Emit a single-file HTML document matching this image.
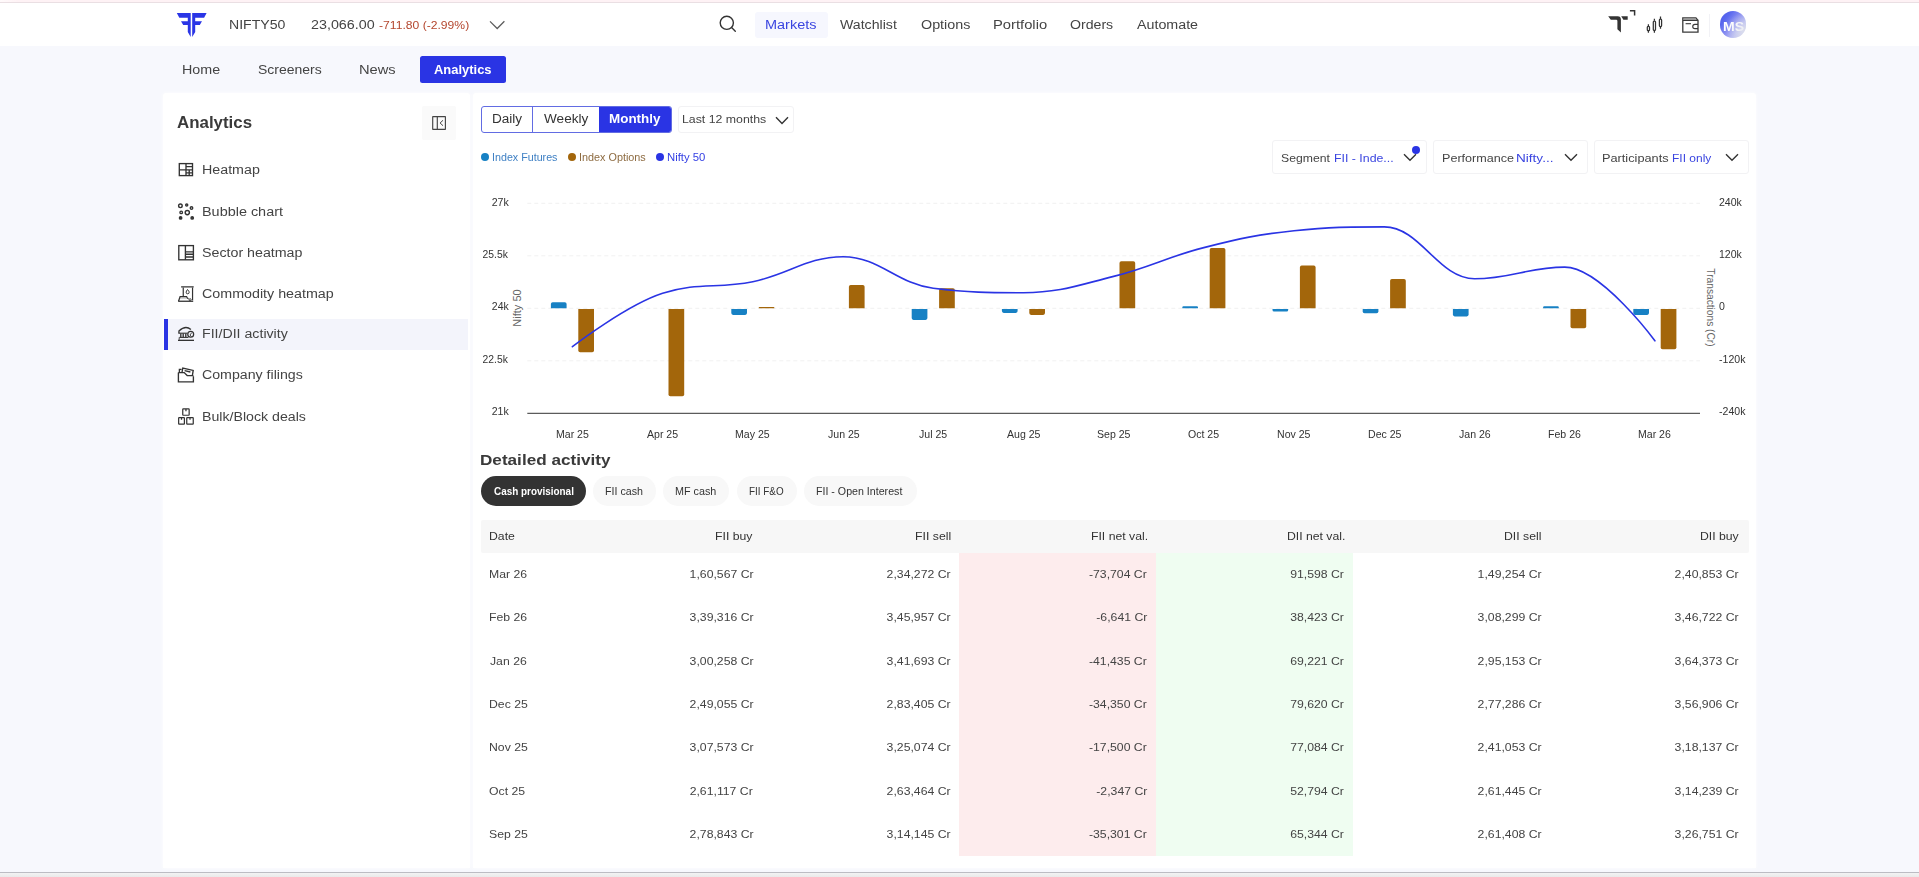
<!DOCTYPE html>
<html lang="en">
<head>
<meta charset="utf-8">
<title>FII/DII activity - Analytics</title>
<style>

*{box-sizing:border-box;margin:0;padding:0}
html,body{width:1919px;height:877px;overflow:hidden;background:#f7f8fd}
body{font-family:"Liberation Sans",sans-serif;color:#444;font-size:13px;-webkit-font-smoothing:antialiased}
#page{position:relative;width:1919px;height:877px;overflow:hidden;background:#f7f8fd}
.abs{position:absolute}
.t{position:absolute;white-space:nowrap;line-height:1;display:block;color:#444}
#txt{position:absolute;left:0;top:0;width:1919px;height:877px;will-change:transform}
svg{position:absolute;overflow:visible}

/* top strip + header */
#topline{position:absolute;left:0;top:0;width:1919px;height:3px;background:linear-gradient(90deg,#fffafb 0,#fef2f5 18px);border-bottom:1px solid #eadfe3}
#header{position:absolute;left:0;top:3px;width:1919px;height:43px;background:#fff}
#mk-bg{position:absolute;left:755px;top:12px;width:73px;height:25.5px;background:#f6f7fe;border-radius:3px}
#avatar{position:absolute;left:1719.8px;top:11.2px;width:26.4px;height:26.4px;border-radius:50%;
  background:linear-gradient(128deg,#4656ea 0%,#5a68ee 25%,#8d92f2 50%,#b9bdf2 72%,#dfe1ea 100%)}
#avfade{position:absolute;left:1719.8px;top:11.2px;width:26.4px;height:26.4px;border-radius:50%;background:radial-gradient(circle at 88% 72%,rgba(226,228,236,.7) 0%,rgba(226,228,236,.35) 28%,rgba(226,228,236,0) 58%)}
#hdiv{position:absolute;left:1709px;top:14px;width:1px;height:23px;background:#f2f2f6}

/* sub nav */
#an-btn{position:absolute;left:420px;top:56px;width:85.5px;height:26.8px;background:#2a34e4;border-radius:2.5px}

/* panels */
#side{position:absolute;left:163px;top:93px;width:307px;height:775px;background:#fff;border-radius:3px 3px 0 0;box-shadow:0 0 4px rgba(255,255,255,.85)}
#main{position:absolute;left:473px;top:93px;width:1283px;height:775px;background:#fff;border-radius:3px 3px 0 0;box-shadow:0 0 4px rgba(255,255,255,.85)}
#botline{position:absolute;left:0;top:872px;width:1919px;height:1px;background:#bcbcc3}
#botbar{position:absolute;left:0;top:873px;width:1919px;height:4px;background:linear-gradient(#f3f3f3,#e9e9e9)}

/* sidebar */
#collapse{position:absolute;left:259px;top:13px;width:34px;height:34px;background:#fafafa;border-radius:2px}
#act{position:absolute;left:1px;top:225.7px;width:304px;height:31.2px;background:#f3f4fb}
#actbar{position:absolute;left:1px;top:225.7px;width:4px;height:31.2px;background:#2a34e4}
.ic{position:absolute;left:14px;width:17px;height:17px}

/* chart controls */
#tabs{position:absolute;left:8px;top:13px;width:191px;height:27px;border:1.5px solid #626ce3;border-radius:3px;background:#fff;overflow:hidden}
#tabs div{position:absolute;top:0;height:100%;font-size:14px;line-height:1;color:#333;text-align:center;padding-top:5px}
#tabs .d{left:0;width:51px;border-right:1.5px solid #626ce3}
#tabs .w{left:51px;width:66px}
#tabs .m{left:117px;width:72px;background:#2a34e4;color:#fff;font-weight:bold;font-size:13.5px}
.dd{position:absolute;border:1px solid #f2f2f4;border-radius:3px;background:#fff}
.dot{position:absolute;width:8px;height:8px;border-radius:50%;top:60px}
.ax{font-size:10.5px;fill:#333;font-family:"Liberation Sans",sans-serif}

/* table */
.pill{position:absolute;top:383px;height:30px;border-radius:15px;background:#f8f8f8;font-size:10.4px;line-height:1;color:#333;text-align:center;padding-top:10px;white-space:nowrap}
.pill.on{background:#333;color:#fff;font-weight:bold;font-size:10px;padding-top:10.3px}
#th{position:absolute;left:8px;top:427px;width:1268px;height:33px;background:#f7f7f7;border-radius:2px}
.col-r{position:absolute;left:486px;top:460px;width:197px;height:303px;background:#fdeced}
.col-g{position:absolute;left:683px;top:460px;width:197px;height:303px;background:#effdf1}
</style>
</head>
<body>
<div id="page">
<div id="topline"></div>
<div id="header"></div>
<svg style="left:174px;top:10px" width="36" height="30" viewBox="174 10 36 30"><g fill="#2a35e6"><path d="M176.8 13 H190.7 V37.1 L187.8 32 V24.9 H183.2 L181 21.2 H187.8 V17.7 H179.3 Z"/><path d="M192.2 13 H206.6 L204.1 17.7 H195.2 V21.2 H202 L199.8 24.9 H195.2 V32 L192.2 37.1 Z"/></g></svg>
<svg style="left:489.1px;top:19.7px" width="16" height="10" viewBox="0 0 16 10"><path d="M1 1.4 L8.2 8.5 L15.4 1.3" fill="none" stroke="#5c5c5c" stroke-width="1.25"/></svg>
<svg style="left:718px;top:14.2px" width="20" height="20" viewBox="0 0 20 20"><circle cx="8.8" cy="8.8" r="6.6" fill="none" stroke="#333" stroke-width="1.4"/><path d="M13.6 13.6 L17.3 17.3" stroke="#333" stroke-width="1.35" stroke-linecap="round"/></svg>
<div id="mk-bg"></div>
<svg style="left:1606px;top:8px" width="32" height="28" viewBox="1606 8 32 28"><path d="M1608.2 16.2 H1617.6 Q1620.9 16.2 1620.9 19.6 V32.5 L1617.4 29.3 V21 Q1617.4 19.8 1616.2 19.8 H1610.8 Z" fill="#333"/><path d="M1621.2 16.2 H1627.7 V19.8 H1623.4 Z" fill="#333"/><path d="M1629.9 10.7 H1634.6 V15.6" fill="none" stroke="#333" stroke-width="1.5"/></svg>
<svg style="left:1644px;top:14px" width="22" height="22" viewBox="1644 14 22 22"><g fill="none" stroke="#333" stroke-width="1.25"><path d="M1648.4 24.2 V26.2 M1648.4 30.8 V32.7 M1654.4 18.8 V20.8 M1654.4 30.4 V32.7 M1660.5 16.6 V19 M1660.5 26.6 V28.7"/><rect x="1647.3" y="26.3" width="2.2" height="4.4" rx="0.9"/><rect x="1653.3" y="21" width="2.2" height="9.3" rx="0.9"/><rect x="1659.4" y="19.2" width="2.2" height="7.3" rx="0.9"/></g></svg>
<svg style="left:1680px;top:15px" width="22" height="20" viewBox="1680 15 22 20"><g fill="none" stroke="#3a3a3a" stroke-width="1.3"><path d="M1682.8 20.4 H1698 V32.1 H1682.8 V17.8 H1695.9 L1698 20.4"/><path d="M1683.6 19.1 H1695.8" stroke="#909090" stroke-width="1.5"/><path d="M1685.6 23.7 H1691" stroke-width="1.1"/><path d="M1698 24.3 H1694.9 A2.15 2.15 0 0 0 1694.9 28.6 H1698" stroke-width="1.15"/></g></svg>
<div id="hdiv"></div>
<div id="avatar"></div>
<div id="an-btn"></div>
<div id="side">
<div id="act"></div><div id="actbar"></div>
<div id="collapse"></div>
<svg style="left:267px;top:21px" width="18" height="18" viewBox="430 114 18 18" fill="none" stroke="#333" stroke-width="1.15"><rect x="432.7" y="116.6" width="12.7" height="12.8" rx="0.2" stroke="#444"/><path d="M437.3 116.6 V129.4" stroke="#444"/><path d="M443 120.3 L440.1 123 L443 125.7" stroke="#444" stroke-width="1"/></svg>
<svg style="left:14px;top:68px" width="18" height="18" viewBox="177 161 18 18" fill="none" stroke="#333" stroke-width="1.35"><rect x="179.3" y="163.6" width="13.2" height="12"/><path d="M186 163.6 V175.6 M179.3 169.8 H192.5 M186 166.6 H192.5 M189.2 169.8 V175.6 M186 172.8 H192.5"/></svg>
<svg style="left:14px;top:109px" width="18" height="18" viewBox="177 202 18 18" fill="none" stroke="#333" stroke-width="1.4"><circle cx="180.4" cy="205.8" r="1.8"/><circle cx="186.7" cy="205" r="1.05"/><circle cx="191.5" cy="208" r="1.25"/><circle cx="181.2" cy="212.4" r="1.25"/><circle cx="187.3" cy="212.6" r="2.1"/><circle cx="180.6" cy="217.9" r="1.2" fill="#333"/><circle cx="192.2" cy="217.9" r="1.2" fill="#444"/></svg>
<svg style="left:14px;top:150px" width="18" height="19" viewBox="177 243 18 19" fill="none" stroke="#333" stroke-width="1.35"><rect x="178.8" y="245.6" width="14.6" height="14.2"/><path d="M185.4 245.6 V259.8 M185.4 251.9 H193.4 M185.4 254.2 H193.4 M185.4 257 H193.4"/></svg>
<svg style="left:13px;top:190px" width="20" height="20" viewBox="176 283 20 20" fill="none" stroke="#333" stroke-width="1.1"><path d="M181.1 286.85 H193.7" stroke="#555" stroke-width="1.5"/><path d="M183.25 287.6 V296.4 M192.55 287.6 V300.2" stroke-width="1.2"/><path d="M178.5 301.2 L180.1 296.7 H186.6 Q187.4 298.6 188.6 298.7" stroke-width="1.25"/><path d="M180.2 298.05 H186.8" stroke-width="0.6" stroke="#777"/><path d="M178.2 301.25 H193.2" stroke-width="1.3"/><circle cx="190.1" cy="299.75" r="1.05" stroke-width="0.9"/><path d="M187.5 289.5 C186.6 290.7 186.15 291.6 186.15 292.3 A1.5 1.5 0 0 0 189.15 292.3 C189.15 291.6 188.6 290.6 187.5 289.5 Z" stroke-width="1"/></svg>
<svg style="left:13px;top:231px" width="20" height="20" viewBox="176 324 20 20" fill="none" stroke="#333" stroke-width="1.1"><path d="M178.95 333.2 V330.9 Q185.6 324.9 190.9 329.6" stroke-width="1.3"/><path d="M178.4 333.2 H187.4" stroke-width="1.1"/><path d="M180.8 333.4 V337.2 M183.2 333.4 V337.2 M185.8 333.4 V337.2" stroke-width="1.35"/><path d="M179.4 337.4 H188.4" stroke-width="1.1"/><path d="M179.2 337.4 V339.8" stroke-width="0.9"/><path d="M178 340.35 H194" stroke-width="1.35"/><circle cx="190.7" cy="334.3" r="2.95" fill="#f3f4fb" stroke-width="1.25"/><path d="M191.7 332.7 L190 335 L191.3 336.5" stroke-width="0.9"/></svg>
<svg style="left:13px;top:272px" width="19" height="19" viewBox="176 365 19 19" fill="none" stroke="#333" stroke-width="1.35"><path d="M178.4 372.6 V381.9 H193.4 V376.2"/><path d="M178.4 372.6 H184.2 L187.2 375.6 H193.4"/><path d="M179.4 372.4 V369.4 H181.6"/><path d="M182 372.4 L182.8 368 L193.2 370.4 L192.4 375.4"/><path d="M184.6 370.6 L190.4 372"/></svg>
<svg style="left:13px;top:313px" width="20" height="21" viewBox="176 406 20 21" fill="none" stroke="#333" stroke-width="1.22"><rect x="182.75" y="408.95" width="6.4" height="6.3" rx="0.5"/><rect x="178.65" y="417.65" width="5.75" height="6.5" rx="0.5"/><rect x="186.75" y="417.65" width="6.5" height="6.5" rx="0.5"/><path d="M185.95 409 V411.2 M181.5 417.7 V419.7 M190 417.7 V419.7" stroke-width="1.25"/></svg>
</div>
<div id="main">
<div id="tabs"><div class="d"></div><div class="w"></div><div class="m"></div></div>
<div class="dd" style="left:205px;top:13px;width:116px;height:27px"></div>
<svg style="left:302px;top:23px" width="14" height="9" viewBox="0 0 14 9"><path d="M1 1.2 L7 7.4 L13 1.2" fill="none" stroke="#333" stroke-width="1.4"/></svg>
<div class="dot" style="left:8.3px;background:#1781c4"></div><div class="dot" style="left:94.7px;background:#a3660b"></div><div class="dot" style="left:182.6px;background:#2a34e4"></div><div class="dd" style="left:799px;top:47px;width:155px;height:34px"></div>
<svg style="left:930px;top:60px" width="14" height="9" viewBox="0 0 14 9"><path d="M1 1.2 L7 7.2 L13 1.2" fill="none" stroke="#333" stroke-width="1.4"/></svg>
<div class="abs" style="left:938.8px;top:52.5px;width:8px;height:8px;border-radius:50%;background:#2a34e4"></div>
<div class="dd" style="left:960px;top:47px;width:155px;height:34px"></div>
<svg style="left:1091px;top:60px" width="14" height="9" viewBox="0 0 14 9"><path d="M1 1.2 L7 7.2 L13 1.2" fill="none" stroke="#333" stroke-width="1.4"/></svg>
<div class="dd" style="left:1121px;top:47px;width:155px;height:34px"></div>
<svg style="left:1252px;top:60px" width="14" height="9" viewBox="0 0 14 9"><path d="M1 1.2 L7 7.2 L13 1.2" fill="none" stroke="#333" stroke-width="1.4"/></svg>
<svg style="left:0;top:0" width="1283" height="775" viewBox="473 93 1283 775">
<path d="M527.3 203.3 H1700.0" stroke="#f1f1f1" stroke-width="1" stroke-dasharray="4 3" fill="none"/>
<path d="M527.3 255.8 H1700.0" stroke="#f1f1f1" stroke-width="1" stroke-dasharray="4 3" fill="none"/>
<path d="M527.3 308.3 H1700.0" stroke="#f1f1f1" stroke-width="1" stroke-dasharray="4 3" fill="none"/>
<path d="M527.3 360.8 H1700.0" stroke="#f1f1f1" stroke-width="1" stroke-dasharray="4 3" fill="none"/>
<path d="M550.9 308.3 V304.1 Q550.9 302.3 552.7 302.3 H564.8 Q566.6 302.3 566.6 304.1 V308.3 Z" fill="#1781c4"/>
<path d="M578.3 308.9 V350.5 Q578.3 352.3 580.1 352.3 H592.2 Q594.0 352.3 594.0 350.5 V308.9 Z" fill="#a3660b"/>
<path d="M668.5 308.9 V394.5 Q668.5 396.3 670.3 396.3 H682.4 Q684.2 396.3 684.2 394.5 V308.9 Z" fill="#a3660b"/>
<path d="M731.3 308.9 V313.1 Q731.3 314.9 733.1 314.9 H745.2 Q747.0 314.9 747.0 313.1 V308.9 Z" fill="#1781c4"/>
<path d="M758.7 308.3 V307.8 Q758.7 307.1 759.4 307.1 H773.6 Q774.4 307.1 774.4 307.8 V308.3 Z" fill="#a3660b"/>
<path d="M848.9 308.3 V286.8 Q848.9 285.0 850.7 285.0 H862.8 Q864.6 285.0 864.6 286.8 V308.3 Z" fill="#a3660b"/>
<path d="M911.7 308.9 V318.1 Q911.7 319.9 913.5 319.9 H925.6 Q927.4 319.9 927.4 318.1 V308.9 Z" fill="#1781c4"/>
<path d="M939.1 308.3 V290.1 Q939.1 288.3 940.9 288.3 H953.0 Q954.8 288.3 954.8 290.1 V308.3 Z" fill="#a3660b"/>
<path d="M1001.9 308.9 V311.1 Q1001.9 312.9 1003.7 312.9 H1015.8 Q1017.6 312.9 1017.6 311.1 V308.9 Z" fill="#1781c4"/>
<path d="M1029.3 308.9 V313.1 Q1029.3 314.9 1031.1 314.9 H1043.2 Q1045.0 314.9 1045.0 313.1 V308.9 Z" fill="#a3660b"/>
<path d="M1119.5 308.3 V263.1 Q1119.5 261.3 1121.3 261.3 H1133.4 Q1135.2 261.3 1135.2 263.1 V308.3 Z" fill="#a3660b"/>
<path d="M1182.3 308.3 V307.5 Q1182.3 306.3 1183.5 306.3 H1196.8 Q1198.0 306.3 1198.0 307.5 V308.3 Z" fill="#1781c4"/>
<path d="M1209.7 308.3 V249.8 Q1209.7 248.0 1211.5 248.0 H1223.6 Q1225.4 248.0 1225.4 249.8 V308.3 Z" fill="#a3660b"/>
<path d="M1272.5 308.9 V310.0 Q1272.5 311.6 1274.1 311.6 H1286.6 Q1288.2 311.6 1288.2 310.0 V308.9 Z" fill="#1781c4"/>
<path d="M1299.9 308.3 V267.4 Q1299.9 265.6 1301.7 265.6 H1313.8 Q1315.6 265.6 1315.6 267.4 V308.3 Z" fill="#a3660b"/>
<path d="M1362.7 308.9 V311.5 Q1362.7 313.3 1364.5 313.3 H1376.6 Q1378.4 313.3 1378.4 311.5 V308.9 Z" fill="#1781c4"/>
<path d="M1390.1 308.3 V280.8 Q1390.1 279.0 1391.9 279.0 H1404.0 Q1405.8 279.0 1405.8 280.8 V308.3 Z" fill="#a3660b"/>
<path d="M1452.9 308.9 V314.6 Q1452.9 316.4 1454.7 316.4 H1466.8 Q1468.6 316.4 1468.6 314.6 V308.9 Z" fill="#1781c4"/>
<path d="M1543.1 308.3 V307.5 Q1543.1 306.3 1544.3 306.3 H1557.6 Q1558.8 306.3 1558.8 307.5 V308.3 Z" fill="#1781c4"/>
<path d="M1570.5 308.9 V326.4 Q1570.5 328.2 1572.3 328.2 H1584.4 Q1586.2 328.2 1586.2 326.4 V308.9 Z" fill="#a3660b"/>
<path d="M1633.3 308.9 V313.1 Q1633.3 314.9 1635.1 314.9 H1647.2 Q1649.0 314.9 1649.0 313.1 V308.9 Z" fill="#1781c4"/>
<path d="M1660.7 308.9 V347.4 Q1660.7 349.2 1662.5 349.2 H1674.6 Q1676.4 349.2 1676.4 347.4 V308.9 Z" fill="#a3660b"/>
<path d="M527.3 413.3 H1700.0" stroke="#333" stroke-width="1" fill="none"/>
<path d="M572.40 346.70 C572.40 346.70 626.53 304.90 662.61 293.30 C698.69 281.70 716.74 289.02 752.82 281.70 C788.90 274.38 806.94 256.70 843.03 256.70 C879.11 256.70 897.15 283.90 933.23 288.30 C969.32 292.70 987.36 292.70 1023.44 292.70 C1059.53 292.70 1077.57 285.42 1113.65 276.40 C1149.73 267.38 1167.77 256.74 1203.86 247.60 C1239.94 238.46 1257.98 234.50 1294.07 230.70 C1330.15 226.90 1348.19 226.90 1384.27 226.90 C1420.36 226.90 1438.40 278.80 1474.48 278.80 C1510.56 278.80 1528.61 267.10 1564.69 267.10 C1600.77 267.10 1654.90 340.80 1654.90 340.80" stroke="#2a34e4" stroke-width="1.6" fill="none" stroke-linejoin="round" stroke-linecap="round"/>
<text class="ax" style="fill:#666;font-size:11px" transform="translate(521 308) rotate(-90)" text-anchor="middle">Nifty 50</text>
<text class="ax" style="fill:#666;font-size:10.2px" transform="translate(1706.5 307.5) rotate(90)" text-anchor="middle">Transactions (Cr)</text>
</svg>
<div class="pill on" style="left:8px;width:105px"></div>
<div class="pill" style="left:120.3px;width:63px"></div>
<div class="pill" style="left:190.3px;width:66px"></div>
<div class="pill" style="left:263.7px;width:60px"></div>
<div class="pill" style="left:331.3px;width:112.5px"></div>
<div id="th"></div>
<div class="col-r"></div><div class="col-g"></div>
</div>
<div id="txt">
<span class="t" style="top:19px;font-size:12.3px;left:229.44px;transform-origin:0 0;transform:scaleX(1.1461);">NIFTY50</span>
<span class="t" style="top:19px;font-size:12.3px;left:311.38px;transform-origin:0 0;transform:scaleX(1.1633);">23,066.00</span>
<span class="t" style="top:20px;font-size:11.8px;left:379.17px;transform-origin:0 0;transform:scaleX(1.0288);color:#b4472f;">-711.80 (-2.99%)</span>
<span class="t" style="top:19px;font-size:12.3px;left:765.41px;transform-origin:0 0;transform:scaleX(1.1778);color:#3a45e0;">Markets</span>
<span class="t" style="top:19px;font-size:12.3px;left:840.14px;transform-origin:0 0;transform:scaleX(1.1504);">Watchlist</span>
<span class="t" style="top:19px;font-size:12.3px;left:920.73px;transform-origin:0 0;transform:scaleX(1.1652);">Options</span>
<span class="t" style="top:19px;font-size:12.3px;left:992.79px;transform-origin:0 0;transform:scaleX(1.1994);">Portfolio</span>
<span class="t" style="top:19px;font-size:12.3px;left:1069.84px;transform-origin:0 0;transform:scaleX(1.1485);">Orders</span>
<span class="t" style="top:19px;font-size:12.3px;left:1136.87px;transform-origin:0 0;transform:scaleX(1.1600);">Automate</span>
<span class="t" style="top:21px;font-size:12.4px;left:1722.87px;transform-origin:0 0;transform:scaleX(1.1335);font-weight:bold;color:#fff;">MS</span>
<span class="t" style="top:64px;font-size:12.5px;left:181.73px;transform-origin:0 0;transform:scaleX(1.1429);">Home</span>
<span class="t" style="top:64px;font-size:12.5px;left:257.97px;transform-origin:0 0;transform:scaleX(1.1192);">Screeners</span>
<span class="t" style="top:64px;font-size:12.5px;left:358.80px;transform-origin:0 0;transform:scaleX(1.1746);">News</span>
<span class="t" style="top:64px;font-size:12.3px;left:433.69px;transform-origin:0 0;transform:scaleX(1.0520);font-weight:bold;color:#fff;">Analytics</span>
<span class="t" style="top:115px;font-size:16px;left:176.89px;transform-origin:0 0;transform:scaleX(1.0547);font-weight:bold;color:#3a3a3a;">Analytics</span>
<span class="t" style="top:164px;font-size:12.3px;left:201.93px;transform-origin:0 0;transform:scaleX(1.1594);">Heatmap</span>
<span class="t" style="top:206px;font-size:12.3px;left:201.92px;transform-origin:0 0;transform:scaleX(1.1728);">Bubble chart</span>
<span class="t" style="top:247px;font-size:12.3px;left:202.46px;transform-origin:0 0;transform:scaleX(1.1569);">Sector heatmap</span>
<span class="t" style="top:288px;font-size:12.3px;left:202.39px;transform-origin:0 0;transform:scaleX(1.1608);">Commodity heatmap</span>
<span class="t" style="top:328px;font-size:12.3px;left:201.94px;transform-origin:0 0;transform:scaleX(1.1518);">FII/DII activity</span>
<span class="t" style="top:369px;font-size:12.3px;left:202.39px;transform-origin:0 0;transform:scaleX(1.1525);">Company filings</span>
<span class="t" style="top:411px;font-size:12.3px;left:201.94px;transform-origin:0 0;transform:scaleX(1.1522);">Bulk/Block deals</span>
<span class="t" style="top:113px;font-size:12.3px;left:491.59px;transform-origin:0 0;transform:scaleX(1.1021);color:#333;">Daily</span>
<span class="t" style="top:113px;font-size:12.3px;left:543.75px;transform-origin:0 0;transform:scaleX(1.1045);color:#333;">Weekly</span>
<span class="t" style="top:113px;font-size:12.3px;left:608.81px;transform-origin:0 0;transform:scaleX(1.0916);font-weight:bold;color:#fff;">Monthly</span>
<span class="t" style="top:114px;font-size:11px;left:681.69px;transform-origin:0 0;transform:scaleX(1.1202);">Last 12 months</span>
<span class="t" style="top:153px;font-size:10.4px;left:492.21px;transform-origin:0 0;transform:scaleX(1.0306);color:#3f80c4;">Index Futures</span>
<span class="t" style="top:153px;font-size:10.4px;left:578.90px;transform-origin:0 0;transform:scaleX(1.0416);color:#8d6b41;">Index Options</span>
<span class="t" style="top:153px;font-size:10.4px;left:667.07px;transform-origin:0 0;transform:scaleX(1.0887);color:#333fe4;">Nifty 50</span>
<span class="t" style="top:153px;font-size:11.3px;left:1281.45px;transform-origin:0 0;transform:scaleX(1.0809);">Segment</span>
<span class="t" style="top:153px;font-size:11.3px;left:1333.59px;transform-origin:0 0;transform:scaleX(1.0917);color:#3a45e0;">FII - Inde...</span>
<span class="t" style="top:153px;font-size:11.3px;left:1441.87px;transform-origin:0 0;transform:scaleX(1.1130);">Performance</span>
<span class="t" style="top:153px;font-size:11.3px;left:1516.09px;transform-origin:0 0;transform:scaleX(1.2015);color:#3a45e0;">Nifty...</span>
<span class="t" style="top:153px;font-size:11.3px;left:1602.35px;transform-origin:0 0;transform:scaleX(1.1282);">Participants</span>
<span class="t" style="top:153px;font-size:11.3px;left:1672.02px;transform-origin:0 0;transform:scaleX(1.0609);color:#3a45e0;">FII only</span>
<span class="t" style="top:197px;font-size:11px;right:1410.62px;transform-origin:100% 0;transform:scaleX(0.9640);color:#333;">27k</span>
<span class="t" style="top:249px;font-size:11px;right:1410.62px;transform-origin:100% 0;transform:scaleX(0.9400);color:#333;">25.5k</span>
<span class="t" style="top:301px;font-size:11px;right:1410.62px;transform-origin:100% 0;transform:scaleX(0.9550);color:#333;">24k</span>
<span class="t" style="top:354px;font-size:11px;right:1410.62px;transform-origin:100% 0;transform:scaleX(0.9400);color:#333;">22.5k</span>
<span class="t" style="top:406px;font-size:11px;right:1410.62px;transform-origin:100% 0;transform:scaleX(0.9600);color:#333;">21k</span>
<span class="t" style="top:197px;font-size:11px;left:1719.17px;transform-origin:0 0;transform:scaleX(0.9600);color:#333;">240k</span>
<span class="t" style="top:249px;font-size:11px;left:1718.90px;transform-origin:0 0;transform:scaleX(0.9600);color:#333;">120k</span>
<span class="t" style="top:301px;font-size:11px;left:1719.29px;transform-origin:0 0;transform:scaleX(0.9600);color:#333;">0</span>
<span class="t" style="top:354px;font-size:11px;left:1719.24px;transform-origin:0 0;transform:scaleX(0.9600);color:#333;">-120k</span>
<span class="t" style="top:406px;font-size:11px;left:1719.24px;transform-origin:0 0;transform:scaleX(0.9600);color:#333;">-240k</span>
<span class="t" style="top:429px;font-size:11px;left:555.95px;transform-origin:0 0;transform:scaleX(0.9600);color:#333;">Mar 25</span>
<span class="t" style="top:429px;font-size:11px;left:647.46px;transform-origin:0 0;transform:scaleX(0.9600);color:#333;">Apr 25</span>
<span class="t" style="top:429px;font-size:11px;left:735.49px;transform-origin:0 0;transform:scaleX(0.9600);color:#333;">May 25</span>
<span class="t" style="top:429px;font-size:11px;left:827.51px;transform-origin:0 0;transform:scaleX(0.9600);color:#333;">Jun 25</span>
<span class="t" style="top:429px;font-size:11px;left:919.48px;transform-origin:0 0;transform:scaleX(0.9600);color:#333;">Jul 25</span>
<span class="t" style="top:429px;font-size:11px;left:1007.11px;transform-origin:0 0;transform:scaleX(0.9600);color:#333;">Aug 25</span>
<span class="t" style="top:429px;font-size:11px;left:1097.09px;transform-origin:0 0;transform:scaleX(0.9600);color:#333;">Sep 25</span>
<span class="t" style="top:429px;font-size:11px;left:1188.47px;transform-origin:0 0;transform:scaleX(0.9600);color:#333;">Oct 25</span>
<span class="t" style="top:429px;font-size:11px;left:1277.32px;transform-origin:0 0;transform:scaleX(0.9600);color:#333;">Nov 25</span>
<span class="t" style="top:429px;font-size:11px;left:1367.53px;transform-origin:0 0;transform:scaleX(0.9600);color:#333;">Dec 25</span>
<span class="t" style="top:429px;font-size:11px;left:1458.98px;transform-origin:0 0;transform:scaleX(0.9600);color:#333;">Jan 26</span>
<span class="t" style="top:429px;font-size:11px;left:1548.24px;transform-origin:0 0;transform:scaleX(0.9600);color:#333;">Feb 26</span>
<span class="t" style="top:429px;font-size:11px;left:1638.45px;transform-origin:0 0;transform:scaleX(0.9600);color:#333;">Mar 26</span>
<span class="t" style="top:452px;font-size:15.3px;left:480.17px;transform-origin:0 0;transform:scaleX(1.1196);font-weight:bold;color:#3a3a3a;">Detailed activity</span>
<span class="t" style="top:486px;font-size:10.9px;left:493.79px;transform-origin:0 0;transform:scaleX(0.9104);font-weight:bold;color:#fff;">Cash provisional</span>
<span class="t" style="top:486px;font-size:10.9px;left:605.42px;transform-origin:0 0;transform:scaleX(0.9802);color:#333;">FII cash</span>
<span class="t" style="top:486px;font-size:10.9px;left:675.42px;transform-origin:0 0;transform:scaleX(0.9882);color:#333;">MF cash</span>
<span class="t" style="top:486px;font-size:10.9px;left:749.39px;transform-origin:0 0;transform:scaleX(0.9072);color:#333;">FII F&amp;O</span>
<span class="t" style="top:486px;font-size:10.9px;left:816.43px;transform-origin:0 0;transform:scaleX(0.9771);color:#333;">FII - Open Interest</span>
<span class="t" style="top:530px;font-size:11.6px;left:489.00px;transform-origin:0 0;transform:scaleX(1.0560);color:#333;">Date</span>
<span class="t" style="top:530px;font-size:11.6px;right:1166.08px;transform-origin:100% 0;transform:scaleX(1.0560);color:#333;">FII buy</span>
<span class="t" style="top:530px;font-size:11.6px;right:968.29px;transform-origin:100% 0;transform:scaleX(1.0560);color:#333;">FII sell</span>
<span class="t" style="top:530px;font-size:11.6px;right:770.99px;transform-origin:100% 0;transform:scaleX(1.0560);color:#333;">FII net val.</span>
<span class="t" style="top:530px;font-size:11.6px;right:573.99px;transform-origin:100% 0;transform:scaleX(1.0560);color:#333;">DII net val.</span>
<span class="t" style="top:530px;font-size:11.6px;right:377.29px;transform-origin:100% 0;transform:scaleX(1.0560);color:#333;">DII sell</span>
<span class="t" style="top:530px;font-size:11.6px;right:180.38px;transform-origin:100% 0;transform:scaleX(1.0560);color:#333;">DII buy</span>
<span class="t" style="top:568px;font-size:11.6px;left:489.00px;transform-origin:0 0;transform:scaleX(1.0560);">Mar 26</span>
<span class="t" style="top:568px;font-size:11.6px;right:1165.91px;transform-origin:100% 0;transform:scaleX(1.0560);">1,60,567 Cr</span>
<span class="t" style="top:568px;font-size:11.6px;right:968.91px;transform-origin:100% 0;transform:scaleX(1.0560);">2,34,272 Cr</span>
<span class="t" style="top:568px;font-size:11.6px;right:771.91px;transform-origin:100% 0;transform:scaleX(1.0560);">-73,704 Cr</span>
<span class="t" style="top:568px;font-size:11.6px;right:574.91px;transform-origin:100% 0;transform:scaleX(1.0560);">91,598 Cr</span>
<span class="t" style="top:568px;font-size:11.6px;right:377.91px;transform-origin:100% 0;transform:scaleX(1.0560);">1,49,254 Cr</span>
<span class="t" style="top:568px;font-size:11.6px;right:180.21px;transform-origin:100% 0;transform:scaleX(1.0560);">2,40,853 Cr</span>
<span class="t" style="top:611px;font-size:11.6px;left:489.00px;transform-origin:0 0;transform:scaleX(1.0560);">Feb 26</span>
<span class="t" style="top:611px;font-size:11.6px;right:1165.91px;transform-origin:100% 0;transform:scaleX(1.0560);">3,39,316 Cr</span>
<span class="t" style="top:611px;font-size:11.6px;right:968.91px;transform-origin:100% 0;transform:scaleX(1.0560);">3,45,957 Cr</span>
<span class="t" style="top:611px;font-size:11.6px;right:771.90px;transform-origin:100% 0;transform:scaleX(1.0560);">-6,641 Cr</span>
<span class="t" style="top:611px;font-size:11.6px;right:574.91px;transform-origin:100% 0;transform:scaleX(1.0560);">38,423 Cr</span>
<span class="t" style="top:611px;font-size:11.6px;right:377.91px;transform-origin:100% 0;transform:scaleX(1.0560);">3,08,299 Cr</span>
<span class="t" style="top:611px;font-size:11.6px;right:180.21px;transform-origin:100% 0;transform:scaleX(1.0560);">3,46,722 Cr</span>
<span class="t" style="top:655px;font-size:11.6px;left:489.82px;transform-origin:0 0;transform:scaleX(1.0560);">Jan 26</span>
<span class="t" style="top:655px;font-size:11.6px;right:1165.91px;transform-origin:100% 0;transform:scaleX(1.0560);">3,00,258 Cr</span>
<span class="t" style="top:655px;font-size:11.6px;right:968.91px;transform-origin:100% 0;transform:scaleX(1.0560);">3,41,693 Cr</span>
<span class="t" style="top:655px;font-size:11.6px;right:771.91px;transform-origin:100% 0;transform:scaleX(1.0560);">-41,435 Cr</span>
<span class="t" style="top:655px;font-size:11.6px;right:574.91px;transform-origin:100% 0;transform:scaleX(1.0560);">69,221 Cr</span>
<span class="t" style="top:655px;font-size:11.6px;right:377.91px;transform-origin:100% 0;transform:scaleX(1.0560);">2,95,153 Cr</span>
<span class="t" style="top:655px;font-size:11.6px;right:180.21px;transform-origin:100% 0;transform:scaleX(1.0560);">3,64,373 Cr</span>
<span class="t" style="top:698px;font-size:11.6px;left:489.00px;transform-origin:0 0;transform:scaleX(1.0560);">Dec 25</span>
<span class="t" style="top:698px;font-size:11.6px;right:1165.91px;transform-origin:100% 0;transform:scaleX(1.0560);">2,49,055 Cr</span>
<span class="t" style="top:698px;font-size:11.6px;right:968.91px;transform-origin:100% 0;transform:scaleX(1.0560);">2,83,405 Cr</span>
<span class="t" style="top:698px;font-size:11.6px;right:771.91px;transform-origin:100% 0;transform:scaleX(1.0560);">-34,350 Cr</span>
<span class="t" style="top:698px;font-size:11.6px;right:574.91px;transform-origin:100% 0;transform:scaleX(1.0560);">79,620 Cr</span>
<span class="t" style="top:698px;font-size:11.6px;right:377.91px;transform-origin:100% 0;transform:scaleX(1.0560);">2,77,286 Cr</span>
<span class="t" style="top:698px;font-size:11.6px;right:180.21px;transform-origin:100% 0;transform:scaleX(1.0560);">3,56,906 Cr</span>
<span class="t" style="top:741px;font-size:11.6px;left:489.00px;transform-origin:0 0;transform:scaleX(1.0560);">Nov 25</span>
<span class="t" style="top:741px;font-size:11.6px;right:1165.91px;transform-origin:100% 0;transform:scaleX(1.0560);">3,07,573 Cr</span>
<span class="t" style="top:741px;font-size:11.6px;right:968.91px;transform-origin:100% 0;transform:scaleX(1.0560);">3,25,074 Cr</span>
<span class="t" style="top:741px;font-size:11.6px;right:771.91px;transform-origin:100% 0;transform:scaleX(1.0560);">-17,500 Cr</span>
<span class="t" style="top:741px;font-size:11.6px;right:574.91px;transform-origin:100% 0;transform:scaleX(1.0560);">77,084 Cr</span>
<span class="t" style="top:741px;font-size:11.6px;right:377.91px;transform-origin:100% 0;transform:scaleX(1.0560);">2,41,053 Cr</span>
<span class="t" style="top:741px;font-size:11.6px;right:180.21px;transform-origin:100% 0;transform:scaleX(1.0560);">3,18,137 Cr</span>
<span class="t" style="top:785px;font-size:11.6px;left:489.42px;transform-origin:0 0;transform:scaleX(1.0560);">Oct 25</span>
<span class="t" style="top:785px;font-size:11.6px;right:1165.90px;transform-origin:100% 0;transform:scaleX(1.0560);">2,61,117 Cr</span>
<span class="t" style="top:785px;font-size:11.6px;right:968.91px;transform-origin:100% 0;transform:scaleX(1.0560);">2,63,464 Cr</span>
<span class="t" style="top:785px;font-size:11.6px;right:771.90px;transform-origin:100% 0;transform:scaleX(1.0560);">-2,347 Cr</span>
<span class="t" style="top:785px;font-size:11.6px;right:574.91px;transform-origin:100% 0;transform:scaleX(1.0560);">52,794 Cr</span>
<span class="t" style="top:785px;font-size:11.6px;right:377.91px;transform-origin:100% 0;transform:scaleX(1.0560);">2,61,445 Cr</span>
<span class="t" style="top:785px;font-size:11.6px;right:180.21px;transform-origin:100% 0;transform:scaleX(1.0560);">3,14,239 Cr</span>
<span class="t" style="top:828px;font-size:11.6px;left:489.45px;transform-origin:0 0;transform:scaleX(1.0560);">Sep 25</span>
<span class="t" style="top:828px;font-size:11.6px;right:1165.91px;transform-origin:100% 0;transform:scaleX(1.0560);">2,78,843 Cr</span>
<span class="t" style="top:828px;font-size:11.6px;right:968.91px;transform-origin:100% 0;transform:scaleX(1.0560);">3,14,145 Cr</span>
<span class="t" style="top:828px;font-size:11.6px;right:771.91px;transform-origin:100% 0;transform:scaleX(1.0560);">-35,301 Cr</span>
<span class="t" style="top:828px;font-size:11.6px;right:574.91px;transform-origin:100% 0;transform:scaleX(1.0560);">65,344 Cr</span>
<span class="t" style="top:828px;font-size:11.6px;right:377.91px;transform-origin:100% 0;transform:scaleX(1.0560);">2,61,408 Cr</span>
<span class="t" style="top:828px;font-size:11.6px;right:180.21px;transform-origin:100% 0;transform:scaleX(1.0560);">3,26,751 Cr</span>
</div>
<div id="avfade"></div>
<div id="botline"></div><div id="botbar"></div>
</div>
</body>
</html>
